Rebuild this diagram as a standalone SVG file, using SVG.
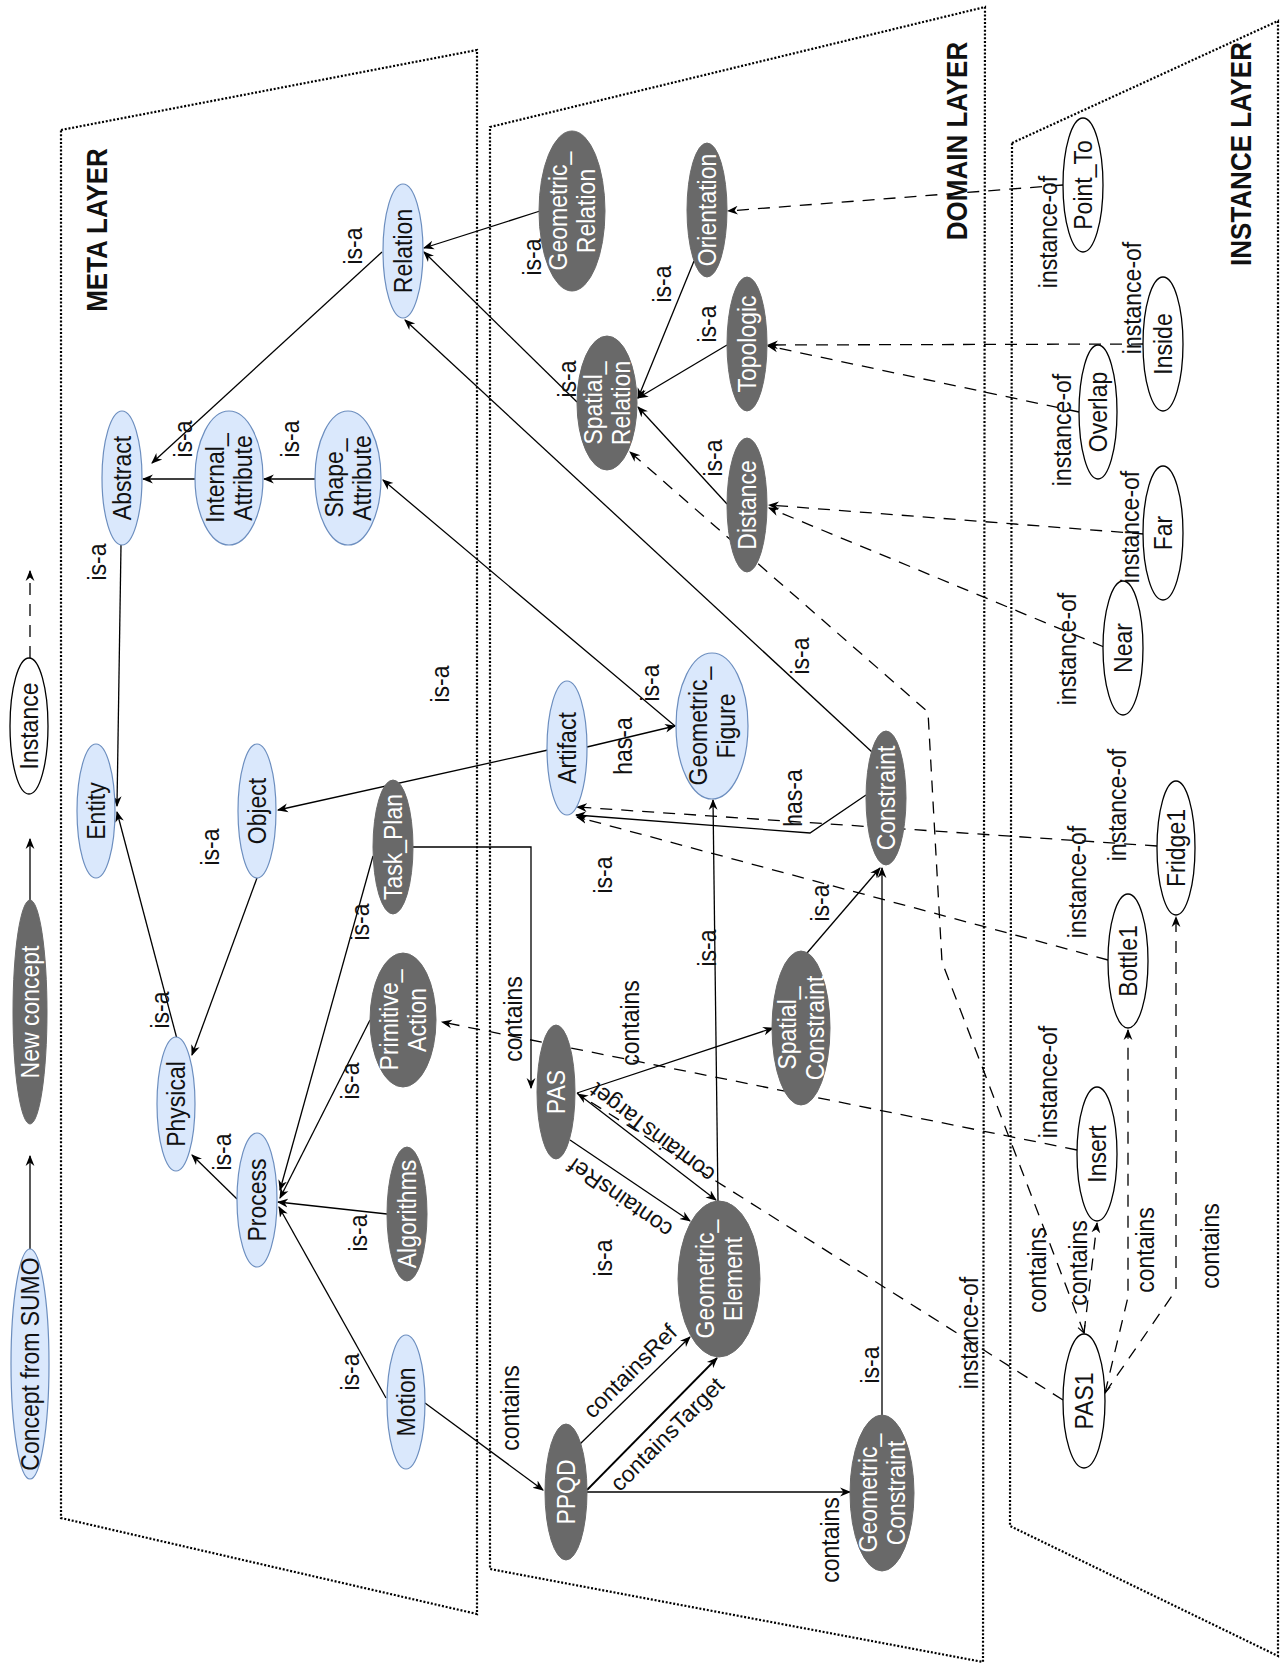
<svg xmlns="http://www.w3.org/2000/svg" width="1287" height="1669" viewBox="0 0 1287 1669">
<style>
text{font-family:"Liberation Sans",Arial,sans-serif;font-size:23px;text-anchor:middle;fill:#111}
.tb{font-weight:bold;font-size:26px}
.w{fill:#fff}
.layer{fill:none;stroke:#000;stroke-width:2.2;stroke-dasharray:2 1.8}
.e{fill:none;stroke:#000;stroke-width:1.3}
.d{fill:none;stroke:#000;stroke-width:1.3;stroke-dasharray:12 9}
.sumo{fill:#dae8fc;stroke:#6c8ebf;stroke-width:1.2}
.new{fill:#696969;stroke:#6a6a6a;stroke-width:1}
.inst{fill:#fff;stroke:#000;stroke-width:1.3}
</style>
<defs>
<marker id="a" viewBox="0 0 10 10" refX="9" refY="5" markerWidth="11" markerHeight="11" markerUnits="userSpaceOnUse" orient="auto"><path d="M0,1 L10,5 L0,9 L3,5 Z" fill="#000"/></marker>
<marker id="o" viewBox="0 0 10 10" refX="9" refY="5" markerWidth="9" markerHeight="9" markerUnits="userSpaceOnUse" orient="auto-start-reverse"><path d="M1,1 L9,5 L1,9" fill="none" stroke="#000" stroke-width="1.3"/></marker>
</defs>
<rect width="1287" height="1669" fill="#fff"/>

<g id="layers">
<polygon class="layer" points="61,130 477,50 477,1614 61,1518"/>
<polygon class="layer" points="490,127 985,7 983,1662 490,1569"/>
<polygon class="layer" points="1012,143 1278,21 1278,1656 1010,1526"/>
<text class="tb" transform="matrix(0,-1,1.1,0,97,230)" y="9">META LAYER</text>
<text class="tb" transform="matrix(0,-1,1.1,0,957,141)" y="9">DOMAIN LAYER</text>
<text class="tb" transform="matrix(0,-1,1.1,0,1241,154)" y="9">INSTANCE LAYER</text>
</g>

<g id="connectors">
<path class="e" marker-end="url(#a)" d="M30,1249 L30,1156"/>
<path class="e" marker-end="url(#a)" d="M30,901 L30,839"/>
<path class="d" marker-end="url(#a)" d="M30,658 L30,571"/>

<path class="e" marker-end="url(#a)" d="M382,252 L152,463"/>
<path class="e" marker-end="url(#a)" d="M195,479 L143,479"/>
<path class="e" marker-end="url(#a)" d="M315,479 L264,479"/>
<path class="e" marker-end="url(#a)" d="M121,545 L117,806"/>
<path class="e" marker-end="url(#a)" d="M177,1039 L117,812"/>
<path class="e" marker-end="url(#a)" d="M257,878 L192,1055"/>
<path class="e" marker-end="url(#a)" d="M548,750 L278,810"/>
<path class="e" marker-end="url(#a)" d="M587,747 L675,726"/>
<path class="e" marker-end="url(#a)" d="M675,726 L383,480"/>
<path class="e" marker-end="url(#a)" d="M872,752 L405,320"/>
<path class="e" marker-end="url(#a)" d="M540,211 L424,248"/>
<path class="e" marker-end="url(#a)" d="M577,402 L424,252"/>
<path class="e" marker-end="url(#a)" d="M694,261 L638,398"/>
<path class="e" marker-end="url(#a)" d="M727,345 L638,398"/>
<path class="e" marker-end="url(#a)" d="M727,504 L638,407"/>
<path class="e" marker-end="url(#a)" d="M373,856 L280,1190"/>
<path class="e" marker-end="url(#a)" d="M370,1020 L280,1198"/>
<path class="e" marker-end="url(#a)" d="M387,1214 L278,1202"/>
<path class="e" marker-end="url(#a)" d="M386,1398 L279,1207"/>
<path class="e" marker-end="url(#a)" d="M237,1199 L192,1155"/>
<path class="e" marker-end="url(#a)" d="M413,847 L531,847 L531,1088"/>
<path class="e" marker-end="url(#a)" d="M577,1093 L773,1028"/>
<path class="e" marker-end="url(#a)" d="M577,1093 L716,1200"/>
<path class="e" marker-end="url(#a)" d="M570,1140 L690,1221"/>
<path class="e" marker-end="url(#a)" d="M718,1201 L713,800"/>
<path class="e" marker-end="url(#a)" d="M425,1403 L543,1490"/>
<path class="e" marker-end="url(#a)" d="M580,1444 L690,1337"/>
<path class="e" marker-end="url(#a)" d="M587,1490 L717,1358" style="stroke-width:1.8"/>
<path class="e" marker-end="url(#a)" d="M587,1492 L850,1492"/>
<path class="e" marker-end="url(#a)" d="M882,1415 L882,868"/>
<path class="e" marker-end="url(#a)" d="M807,953 L880,868"/>
<path class="e" marker-end="url(#a)" d="M866,795 L810,833 L576,815"/>

<path class="d" marker-end="url(#a)" d="M1063,185 L728,211"/>
<path class="d" marker-end="url(#a)" d="M1143,344 L768,345"/>
<path class="d" marker-end="url(#a)" d="M1079,412 L768,346"/>
<path class="d" marker-end="url(#a)" d="M1144,534 L769,505"/>
<path class="d" marker-end="url(#a)" d="M1104,647 L769,508"/>
<path class="d" marker-end="url(#a)" d="M1157,846 L577,807"/>
<path class="d" marker-end="url(#a)" d="M1108,960 L577,817"/>
<path class="d" marker-end="url(#a)" d="M1077,1150 L442,1022"/>
<path class="d" marker-end="url(#a)" d="M1063,1400 L578,1094"/>
<path class="d" marker-start="url(#o)" marker-end="url(#a)" d="M1084,1333 L942,962 L928,712 L630,452"/>
<path class="d" marker-end="url(#a)" d="M1084,1333 L1097,1223"/>
<path class="d" marker-start="url(#o)" marker-end="url(#a)" d="M1105,1393 L1128,1297 L1128,1030"/>
<path class="d" marker-end="url(#a)" d="M1105,1393 L1176,1290 L1176,917"/>

<g id="edge-labels">
<text transform="matrix(0,-1,1.1,0,353,246)" y="8">is-a</text>
<text transform="matrix(0,-1,1.1,0,183,439)" y="8">is-a</text>
<text transform="matrix(0,-1,1.1,0,290,439)" y="8">is-a</text>
<text transform="matrix(0,-1,1.1,0,97,562)" y="8">is-a</text>
<text transform="matrix(0,-1,1.1,0,160,1010)" y="8">is-a</text>
<text transform="matrix(0,-1,1.1,0,210,847)" y="8">is-a</text>
<text transform="matrix(0,-1,1.1,0,440,684)" y="8">is-a</text>
<text transform="matrix(0,-1,1.1,0,650,683)" y="8">is-a</text>
<text transform="matrix(0,-1,1.1,0,800,656)" y="8">is-a</text>
<text transform="matrix(0,-1,1.1,0,532,257)" y="8">is-a</text>
<text transform="matrix(0,-1,1.1,0,567,379)" y="8">is-a</text>
<text transform="matrix(0,-1,1.1,0,662,284)" y="8">is-a</text>
<text transform="matrix(0,-1,1.1,0,707,324)" y="8">is-a</text>
<text transform="matrix(0,-1,1.1,0,713,458)" y="8">is-a</text>
<text transform="matrix(0,-1,1.1,0,360,922)" y="8">is-a</text>
<text transform="matrix(0,-1,1.1,0,350,1081)" y="8">is-a</text>
<text transform="matrix(0,-1,1.1,0,358,1233)" y="8">is-a</text>
<text transform="matrix(0,-1,1.1,0,350,1372)" y="8">is-a</text>
<text transform="matrix(0,-1,1.1,0,222,1152)" y="8">is-a</text>
<text transform="matrix(0,-1,1.1,0,603,875)" y="8">is-a</text>
<text transform="matrix(0,-1,1.1,0,707,948)" y="8">is-a</text>
<text transform="matrix(0,-1,1.1,0,820,903)" y="8">is-a</text>
<text transform="matrix(0,-1,1.1,0,870,1365)" y="8">is-a</text>
<text transform="matrix(0,-1,1.1,0,603,1258)" y="8">is-a</text>
<text transform="matrix(0,-1,1.1,0,623,746)" y="8">has-a</text>
<text transform="matrix(0,-1,1.1,0,793,798)" y="8">has-a</text>
<text transform="matrix(0,-1,1.1,0,513,1019)" y="8">contains</text>
<text transform="matrix(0,-1,1.1,0,630,1023)" y="8">contains</text>
<text transform="matrix(0,-1,1.1,0,510,1408)" y="8">contains</text>
<text transform="matrix(0,-1,1.1,0,830,1540)" y="8">contains</text>
<text transform="matrix(0,-1,1.1,0,1037,1270)" y="8">contains</text>
<text transform="matrix(0,-1,1.1,0,1078,1263)" y="8">contains</text>
<text transform="matrix(0,-1,1.1,0,1145,1250)" y="8">contains</text>
<text transform="matrix(0,-1,1.1,0,1210,1246)" y="8">contains</text>
<text transform="matrix(0,-1,1.1,0,1048,232)" y="8">instance-of</text>
<text transform="matrix(0,-1,1.1,0,1132,298)" y="8">instance-of</text>
<text transform="matrix(0,-1,1.1,0,1062,430)" y="8">instance-of</text>
<text transform="matrix(0,-1,1.1,0,1130,527)" y="8">instance-of</text>
<text transform="matrix(0,-1,1.1,0,1067,649)" y="8">instance-of</text>
<text transform="matrix(0,-1,1.1,0,1117,805)" y="8">instance-of</text>
<text transform="matrix(0,-1,1.1,0,1077,882)" y="8">instance-of</text>
<text transform="matrix(0,-1,1.1,0,1048,1082)" y="8">instance-of</text>
<text transform="matrix(0,-1,1.1,0,969,1333)" y="8">instance-of</text>
<text transform="translate(652,1133) rotate(217)" y="8">containsTarget</text>
<text transform="translate(620,1198) rotate(215)" y="8">containsRef</text>
<text transform="translate(630,1371) rotate(-45)" y="8">containsRef</text>
<text transform="translate(667,1434) rotate(-45)" y="8">containsTarget</text>
</g>
</g>

<g id="legend-sumo"><ellipse class="sumo" cx="30" cy="1364" rx="19" ry="115"/><text transform="matrix(0,-1,1.1,0,30,1364)" y="8">Concept from SUMO</text></g>
<g id="legend-new"><ellipse class="new" cx="30" cy="1012" rx="17" ry="112"/><text class="w" transform="matrix(0,-1,1.1,0,30,1012)" y="8">New concept</text></g>
<g id="legend-instance"><ellipse class="inst" cx="29" cy="726" rx="19" ry="68"/><text transform="matrix(0,-1,1.1,0,29,726)" y="8">Instance</text></g>

<g id="relation"><ellipse class="sumo" cx="403" cy="251" rx="20" ry="67"/><text transform="matrix(0,-1,1.1,0,403,251)" y="8">Relation</text></g>
<g id="abstract"><ellipse class="sumo" cx="122" cy="478" rx="20" ry="67"/><text transform="matrix(0,-1,1.1,0,122,478)" y="8">Abstract</text></g>
<g id="internal-attribute"><ellipse class="sumo" cx="229" cy="478" rx="34" ry="67"/><text transform="matrix(0,-1,1.1,0,229,478)"><tspan x="0" y="-4.7">Internal_</tspan><tspan x="0" y="20.7">Attribute</tspan></text></g>
<g id="shape-attribute"><ellipse class="sumo" cx="348" cy="478" rx="33" ry="67"/><text transform="matrix(0,-1,1.1,0,348,478)"><tspan x="0" y="-4.7">Shape_</tspan><tspan x="0" y="20.7">Attribute</tspan></text></g>
<g id="entity"><ellipse class="sumo" cx="96" cy="811" rx="19" ry="67"/><text transform="matrix(0,-1,1.1,0,96,811)" y="8">Entity</text></g>
<g id="object"><ellipse class="sumo" cx="257" cy="811" rx="19" ry="67"/><text transform="matrix(0,-1,1.1,0,257,811)" y="8">Object</text></g>
<g id="physical"><ellipse class="sumo" cx="176" cy="1104" rx="19" ry="67"/><text transform="matrix(0,-1,1.1,0,176,1104)" y="8">Physical</text></g>
<g id="process"><ellipse class="sumo" cx="257" cy="1200" rx="20" ry="67"/><text transform="matrix(0,-1,1.1,0,257,1200)" y="8">Process</text></g>
<g id="motion"><ellipse class="sumo" cx="406" cy="1402" rx="19" ry="67"/><text transform="matrix(0,-1,1.1,0,406,1402)" y="8">Motion</text></g>
<g id="algorithms"><ellipse class="new" cx="407" cy="1214" rx="20" ry="67"/><text class="w" transform="matrix(0,-1,1.1,0,407,1214)" y="8">Algorithms</text></g>
<g id="primitive-action"><ellipse class="new" cx="403" cy="1020" rx="33" ry="67"/><text class="w" transform="matrix(0,-1,1.1,0,403,1020)"><tspan x="0" y="-4.7">Primitive_</tspan><tspan x="0" y="20.7">Action</tspan></text></g>
<g id="task-plan"><ellipse class="new" cx="393" cy="847" rx="20" ry="67"/><text class="w" transform="matrix(0,-1,1.1,0,393,847)" y="8">Task_Plan</text></g>

<g id="geometric-relation"><ellipse class="new" cx="572" cy="211" rx="33" ry="80"/><text class="w" transform="matrix(0,-1,1.1,0,572,211)"><tspan x="0" y="-4.7">Geometric_</tspan><tspan x="0" y="20.7">Relation</tspan></text></g>
<g id="orientation"><ellipse class="new" cx="707" cy="210" rx="20" ry="67"/><text class="w" transform="matrix(0,-1,1.1,0,707,210)" y="8">Orientation</text></g>
<g id="spatial-relation"><ellipse class="new" cx="607" cy="403" rx="30" ry="67"/><text class="w" transform="matrix(0,-1,1.1,0,607,403)"><tspan x="0" y="-4.7">Spatial_</tspan><tspan x="0" y="20.7">Relation</tspan></text></g>
<g id="topologic"><ellipse class="new" cx="747" cy="344" rx="20" ry="67"/><text class="w" transform="matrix(0,-1,1.1,0,747,344)" y="8">Topologic</text></g>
<g id="distance"><ellipse class="new" cx="747" cy="505" rx="20" ry="67"/><text class="w" transform="matrix(0,-1,1.1,0,747,505)" y="8">Distance</text></g>
<g id="artifact"><ellipse class="sumo" cx="567" cy="748" rx="20" ry="67"/><text transform="matrix(0,-1,1.1,0,567,748)" y="8">Artifact</text></g>
<g id="geometric-figure"><ellipse class="sumo" cx="712" cy="726" rx="36" ry="73"/><text transform="matrix(0,-1,1.1,0,712,726)"><tspan x="0" y="-4.7">Geometric_</tspan><tspan x="0" y="20.7">Figure</tspan></text></g>
<g id="constraint"><ellipse class="new" cx="886" cy="798" rx="20" ry="67"/><text class="w" transform="matrix(0,-1,1.1,0,886,798)" y="8">Constraint</text></g>
<g id="pas"><ellipse class="new" cx="556" cy="1092" rx="19" ry="67"/><text class="w" transform="matrix(0,-1,1.1,0,556,1092)" y="8">PAS</text></g>
<g id="spatial-constraint"><ellipse class="new" cx="801" cy="1028" rx="29" ry="77"/><text class="w" transform="matrix(0,-1,1.1,0,801,1028)"><tspan x="0" y="-4.7">Spatial_</tspan><tspan x="0" y="20.7">Constraint</tspan></text></g>
<g id="geometric-element"><ellipse class="new" cx="719" cy="1279" rx="41" ry="78"/><text class="w" transform="matrix(0,-1,1.1,0,719,1279)"><tspan x="0" y="-4.7">Geometric_</tspan><tspan x="0" y="20.7">Element</tspan></text></g>
<g id="ppqd"><ellipse class="new" cx="566" cy="1492" rx="21" ry="68"/><text class="w" transform="matrix(0,-1,1.1,0,566,1492)" y="8">PPQD</text></g>
<g id="geometric-constraint"><ellipse class="new" cx="882" cy="1493" rx="32" ry="78"/><text class="w" transform="matrix(0,-1,1.1,0,882,1493)"><tspan x="0" y="-4.7">Geometric_</tspan><tspan x="0" y="20.7">Constraint</tspan></text></g>

<g id="point-to"><ellipse class="inst" cx="1083" cy="185" rx="20" ry="67"/><text transform="matrix(0,-1,1.1,0,1083,185)" y="8">Point_To</text></g>
<g id="inside"><ellipse class="inst" cx="1163" cy="344" rx="20" ry="67"/><text transform="matrix(0,-1,1.1,0,1163,344)" y="8">Inside</text></g>
<g id="overlap"><ellipse class="inst" cx="1098" cy="412" rx="19" ry="67"/><text transform="matrix(0,-1,1.1,0,1098,412)" y="8">Overlap</text></g>
<g id="far"><ellipse class="inst" cx="1163" cy="533" rx="20" ry="67"/><text transform="matrix(0,-1,1.1,0,1163,533)" y="8">Far</text></g>
<g id="near"><ellipse class="inst" cx="1123" cy="648" rx="20" ry="67"/><text transform="matrix(0,-1,1.1,0,1123,648)" y="8">Near</text></g>
<g id="fridge1"><ellipse class="inst" cx="1176" cy="848" rx="19" ry="67"/><text transform="matrix(0,-1,1.1,0,1176,848)" y="8">Fridge1</text></g>
<g id="bottle1"><ellipse class="inst" cx="1128" cy="961" rx="20" ry="67"/><text transform="matrix(0,-1,1.1,0,1128,961)" y="8">Bottle1</text></g>
<g id="insert"><ellipse class="inst" cx="1097" cy="1154" rx="20" ry="67"/><text transform="matrix(0,-1,1.1,0,1097,1154)" y="8">Insert</text></g>
<g id="pas1"><ellipse class="inst" cx="1084" cy="1401" rx="21" ry="67"/><text transform="matrix(0,-1,1.1,0,1084,1401)" y="8">PAS1</text></g>
</svg>
